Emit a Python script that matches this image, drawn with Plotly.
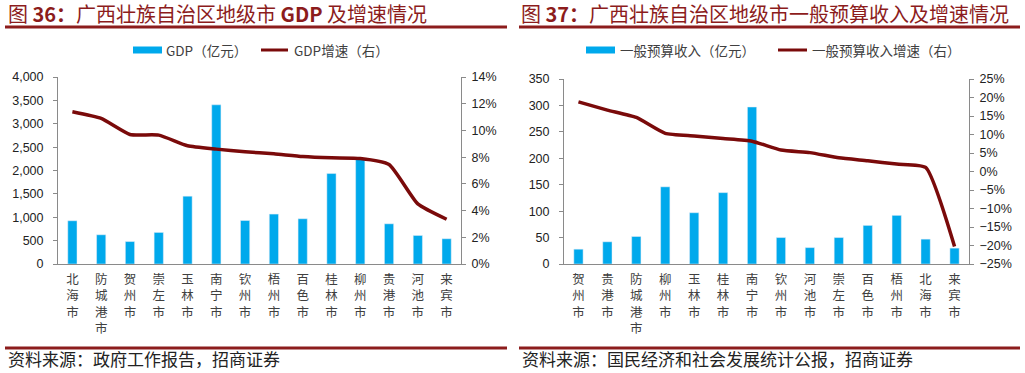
import plotly.graph_objects as go

# ---------------- data ----------------
gdp_cities = ["北海市", "防城港市", "贺州市", "崇左市", "玉林市", "南宁市", "钦州市",
              "梧州市", "百色市", "桂林市", "柳州市", "贵港市", "河池市", "来宾市"]
gdp_values = [925, 625, 480, 675, 1450, 3405, 930, 1068, 968, 1935, 2258, 860, 610, 540]
gdp_growth = [11.4, 10.9, 9.7, 9.65, 8.85, 8.6, 8.4, 8.25, 8.05, 7.95, 7.9, 7.45, 4.5, 3.35]

rev_cities = ["贺州市", "贵港市", "防城港市", "柳州市", "玉林市", "桂林市", "南宁市",
              "钦州市", "河池市", "崇左市", "百色市", "梧州市", "北海市", "来宾市"]
rev_values = [28, 42, 52, 146, 97, 135, 297, 50, 31, 50, 73, 92, 47, 30]
rev_growth = [18.8, 16.6, 14.6, 10.3, 9.6, 8.9, 8.2, 5.8, 5.1, 3.7, 2.9, 2.0, 1.1, -20.3]

title_left = "图 <b>36：</b>广西壮族自治区地级市 <b>GDP</b> 及增速情况"
title_right = "图 <b>37：</b>广西壮族自治区地级市一般预算收入及增速情况"
legend_left = ["GDP（亿元）", "GDP增速（右）"]
legend_right = ["一般预算收入（亿元）", "一般预算收入增速（右）"]
source_left = "资料来源：政府工作报告，招商证券"
source_right = "资料来源：国民经济和社会发展统计公报，招商证券"

# ---------------- style ----------------
W, H = 1025, 373
BAR = "#00A9EC"
LINE = "#7A0A0A"
RED = "#8C1C1C"
AXIS = "#8A8A8A"
TXT = "#404040"
CJK = "Noto Sans CJK SC"
NUM = "Liberation Sans"


def fx(x):
    return x / W


def fy(y):
    return 1 - y / H


def vert(s):
    return "<br>".join(list(s))


fig = go.Figure()

fig.add_trace(go.Bar(x=gdp_cities, y=gdp_values, marker_color=BAR, xaxis="x", yaxis="y",
                     showlegend=False))
fig.add_trace(go.Scatter(x=gdp_cities, y=gdp_growth, mode="lines", xaxis="x", yaxis="y2",
                         line=dict(color=LINE, width=3.5, shape="spline", smoothing=0.5),
                         showlegend=False))
fig.add_trace(go.Bar(x=rev_cities, y=rev_values, marker_color=BAR, xaxis="x2", yaxis="y3",
                     showlegend=False))
fig.add_trace(go.Scatter(x=rev_cities, y=rev_growth, mode="lines", xaxis="x2", yaxis="y4",
                         line=dict(color=LINE, width=3.5, shape="spline", smoothing=0.5),
                         showlegend=False))

xcommon = dict(showline=True, linecolor=AXIS, linewidth=1, ticks="", showgrid=False,
               tickfont=dict(family=CJK, size=12.5, color=TXT), type="category",
               zeroline=False, ticklabelstandoff=4, automargin=False)
ycommon = dict(showline=True, linecolor=AXIS, linewidth=1, ticks="outside", ticklen=4,
               tickcolor=AXIS, showgrid=False, zeroline=False, automargin=False,
               tickfont=dict(family=NUM, size=12.5, color="#222222"))

fig.update_layout(
    width=W, height=H, autosize=False,
    margin=dict(l=0, r=0, t=0, b=0, pad=0),
    paper_bgcolor="white", plot_bgcolor="white",
    bargap=0.68,
    xaxis=dict(domain=[fx(58), fx(461)], anchor="y",
               tickvals=gdp_cities, ticktext=[vert(c) for c in gdp_cities], **xcommon),
    yaxis=dict(domain=[fy(264), fy(77)], anchor="x", range=[0, 4000], dtick=500,
               tickformat=",", ticklabelstandoff=7, **ycommon),
    yaxis2=dict(overlaying="y", side="right", anchor="x", range=[0, 14], dtick=2,
                ticksuffix="%", ticklabelstandoff=3, **ycommon),
    xaxis2=dict(domain=[fx(564), fx(969)], anchor="y3",
                tickvals=rev_cities, ticktext=[vert(c) for c in rev_cities], **xcommon),
    yaxis3=dict(domain=[fy(264), fy(79)], anchor="x2", range=[0, 350], dtick=50,
                ticklabelstandoff=7, **ycommon),
    yaxis4=dict(overlaying="y3", side="right", anchor="x2", range=[-25, 25], dtick=5,
                ticksuffix="%", ticklabelstandoff=3, **ycommon),
)

shapes = []
annotations = []

# title lines and source lines
for (x0, x1) in [(5, 507), (519, 1020)]:
    shapes.append(dict(type="line", xref="paper", yref="paper", x0=fx(x0), x1=fx(x1),
                       y0=fy(27), y1=fy(27), line=dict(color=RED, width=3)))
    shapes.append(dict(type="line", xref="paper", yref="paper", x0=fx(x0), x1=fx(x1),
                       y0=fy(348), y1=fy(348), line=dict(color=RED, width=3)))

for x, t in [(6, title_left), (519, title_right)]:
    annotations.append(dict(xref="paper", yref="paper", x=fx(x), y=fy(13), text=t,
                            showarrow=False, xanchor="left", yanchor="middle",
                            font=dict(family=CJK, size=20, color=RED)))

for x, t in [(6, source_left), (520, source_right)]:
    annotations.append(dict(xref="paper", yref="paper", x=fx(x), y=fy(358), text=t,
                            showarrow=False, xanchor="left", yanchor="middle",
                            font=dict(family=CJK, size=17, color="#222222")))

# manual legends
legs = [
    (133, 162, 164, 261, 288, 292, legend_left),
    (586, 615, 618, 778, 807, 810, legend_right),
]
for (p0, p1, t0, l0, l1, t1, labels) in legs:
    shapes.append(dict(type="rect", xref="paper", yref="paper", x0=fx(p0), x1=fx(p1),
                       y0=fy(53.5), y1=fy(46.5), fillcolor=BAR, line=dict(width=0)))
    shapes.append(dict(type="line", xref="paper", yref="paper", x0=fx(l0), x1=fx(l1),
                       y0=fy(50), y1=fy(50), line=dict(color=LINE, width=3)))
    annotations.append(dict(xref="paper", yref="paper", x=fx(t0), y=fy(50), text=labels[0],
                            showarrow=False, xanchor="left", yanchor="middle",
                            font=dict(family=CJK, size=13.5, color=TXT)))
    annotations.append(dict(xref="paper", yref="paper", x=fx(t1), y=fy(50), text=labels[1],
                            showarrow=False, xanchor="left", yanchor="middle",
                            font=dict(family=CJK, size=13.5, color=TXT)))

fig.update_layout(shapes=shapes, annotations=annotations)

fig.write_html("out.html", config={"displayModeBar": False},
               post_script="document.body.style.margin='0px';document.body.style.overflow='hidden';")
